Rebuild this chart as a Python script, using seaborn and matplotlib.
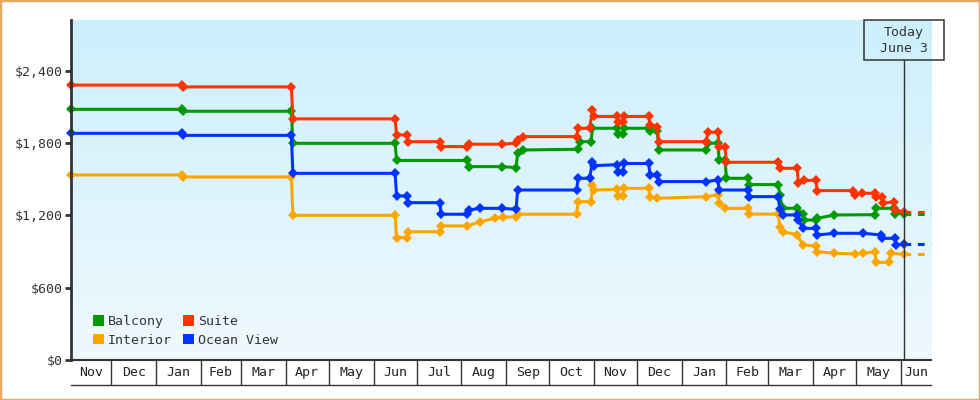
import numpy as np
import pandas as pd
import seaborn as sns
import matplotlib.pyplot as plt
import matplotlib.dates as mdates
from matplotlib.colors import LinearSegmentedColormap
from matplotlib.patches import Patch, Rectangle
from matplotlib.lines import Line2D
from matplotlib.transforms import blended_transform_factory

plt.rcParams['font.family'] = ['DejaVu Sans Mono']

# price history per cabin type
balcony_dates = ["2022-11-03", "2023-01-19", "2023-01-20", "2023-04-05", "2023-04-06", "2023-06-16",
                 "2023-06-17", "2023-08-05", "2023-08-06", "2023-08-29", "2023-09-08", "2023-09-09",
                 "2023-09-13", "2023-10-21", "2023-10-22", "2023-10-30", "2023-10-31", "2023-11-17",
                 "2023-11-18", "2023-11-21", "2023-11-22", "2023-12-09", "2023-12-10", "2023-12-15",
                 "2023-12-16", "2024-01-18", "2024-01-19", "2024-01-26", "2024-01-27", "2024-01-31",
                 "2024-02-01", "2024-02-16", "2024-02-17", "2024-03-08", "2024-03-09", "2024-03-11",
                 "2024-03-21", "2024-03-25", "2024-03-26", "2024-04-03", "2024-04-04", "2024-04-16",
                 "2024-05-14", "2024-05-15", "2024-05-27", "2024-05-28", "2024-06-03"]
balcony_prices = [2079, 2079, 2063, 2063, 1797, 1797,
                  1655, 1655, 1604, 1604, 1596, 1714,
                  1742, 1748, 1811, 1811, 1922, 1922,
                  1875, 1875, 1922, 1922, 1900, 1900,
                  1742, 1742, 1798, 1798, 1659, 1659,
                  1507, 1507, 1455, 1455, 1369, 1258,
                  1258, 1210, 1161, 1161, 1175, 1203,
                  1205, 1258, 1258, 1215, 1215]

suite_dates = ["2022-11-03", "2023-01-19", "2023-01-20", "2023-04-05", "2023-04-06", "2023-06-16",
               "2023-06-17", "2023-06-24", "2023-06-25", "2023-07-17", "2023-07-18", "2023-08-05",
               "2023-08-06", "2023-08-29", "2023-09-08", "2023-09-09", "2023-09-13", "2023-10-20",
               "2023-10-21", "2023-10-29", "2023-10-31", "2023-11-01", "2023-11-17", "2023-11-18",
               "2023-11-21", "2023-11-22", "2023-12-09", "2023-12-10", "2023-12-15", "2023-12-16",
               "2024-01-18", "2024-01-19", "2024-01-26", "2024-01-27", "2024-01-31", "2024-02-01",
               "2024-03-08", "2024-03-09", "2024-03-21", "2024-03-22", "2024-03-26", "2024-04-03",
               "2024-04-04", "2024-04-29", "2024-04-30", "2024-05-05", "2024-05-14", "2024-05-15",
               "2024-05-19", "2024-05-20", "2024-05-27", "2024-05-28", "2024-06-03"]
suite_prices = [2280, 2280, 2265, 2265, 2000, 2000,
                1867, 1867, 1811, 1811, 1770, 1770,
                1790, 1790, 1798, 1825, 1853, 1853,
                1922, 1922, 2070, 2020, 2020, 1975,
                1975, 2020, 2020, 1950, 1935, 1811,
                1811, 1889, 1889, 1770, 1770, 1640,
                1640, 1590, 1590, 1470, 1490, 1490,
                1405, 1405, 1369, 1383, 1383, 1355,
                1355, 1300, 1313, 1244, 1228]

interior_dates = ["2022-11-03", "2023-01-19", "2023-01-20", "2023-04-05", "2023-04-06", "2023-06-16",
                  "2023-06-17", "2023-06-24", "2023-06-25", "2023-07-17", "2023-07-18", "2023-08-05",
                  "2023-08-14", "2023-08-24", "2023-08-30", "2023-09-08", "2023-09-09", "2023-10-20",
                  "2023-10-21", "2023-10-30", "2023-10-31", "2023-11-01", "2023-11-17", "2023-11-18",
                  "2023-11-21", "2023-11-22", "2023-12-09", "2023-12-10", "2023-12-15", "2024-01-18",
                  "2024-01-26", "2024-01-27", "2024-01-31", "2024-02-16", "2024-02-17", "2024-03-08",
                  "2024-03-09", "2024-03-11", "2024-03-21", "2024-03-25", "2024-04-03", "2024-04-04",
                  "2024-04-16", "2024-04-30", "2024-05-06", "2024-05-14", "2024-05-15", "2024-05-24",
                  "2024-05-25", "2024-06-03"]
interior_prices = [1535, 1535, 1518, 1518, 1200, 1200,
                   1015, 1015, 1064, 1064, 1112, 1112,
                   1147, 1175, 1183, 1189, 1209, 1209,
                   1313, 1313, 1452, 1410, 1415, 1360,
                   1360, 1424, 1424, 1355, 1341, 1355,
                   1369, 1300, 1258, 1258, 1210, 1210,
                   1106, 1064, 1040, 954, 945, 899,
                   885, 880, 885, 899, 810, 810,
                   885, 877]

ocean_dates = ["2022-11-03", "2023-01-19", "2023-01-20", "2023-04-05", "2023-04-06", "2023-06-16",
               "2023-06-17", "2023-06-24", "2023-06-25", "2023-07-17", "2023-07-18", "2023-08-05",
               "2023-08-06", "2023-08-14", "2023-08-29", "2023-09-08", "2023-09-09", "2023-10-20",
               "2023-10-21", "2023-10-29", "2023-10-31", "2023-11-01", "2023-11-17", "2023-11-18",
               "2023-11-21", "2023-11-22", "2023-12-09", "2023-12-10", "2023-12-15", "2023-12-16",
               "2024-01-18", "2024-01-26", "2024-01-27", "2024-02-16", "2024-02-17", "2024-03-08",
               "2024-03-09", "2024-03-11", "2024-03-21", "2024-03-22", "2024-03-25", "2024-04-03",
               "2024-04-04", "2024-04-16", "2024-05-06", "2024-05-18", "2024-05-19", "2024-05-28",
               "2024-05-29", "2024-06-03"]
ocean_prices = [1880, 1880, 1863, 1863, 1548, 1548,
                1361, 1361, 1305, 1305, 1209, 1209,
                1244, 1258, 1258, 1250, 1410, 1410,
                1507, 1507, 1645, 1612, 1620, 1560,
                1560, 1630, 1630, 1535, 1535, 1480,
                1480, 1493, 1410, 1410, 1355, 1355,
                1250, 1203, 1203, 1161, 1092, 1092,
                1037, 1051, 1051, 1037, 1009, 1009,
                954, 960]

cabins = ["Interior", "Balcony", "Suite", "Ocean View"]
legend_order = ["Balcony", "Interior", "Suite", "Ocean View"]
colors = {"Balcony": "#009900", "Suite": "#FF3300", "Interior": "#FFA500", "Ocean View": "#0033FF"}
y_ticks = [0, 600, 1200, 1800, 2400]
x_start, x_end = "2022-11-03", "2024-06-22"
today = "2024-06-03"

df = pd.concat([
    pd.DataFrame({"date": pd.to_datetime(balcony_dates), "price": balcony_prices, "cabin": "Balcony"}),
    pd.DataFrame({"date": pd.to_datetime(suite_dates), "price": suite_prices, "cabin": "Suite"}),
    pd.DataFrame({"date": pd.to_datetime(interior_dates), "price": interior_prices, "cabin": "Interior"}),
    pd.DataFrame({"date": pd.to_datetime(ocean_dates), "price": ocean_prices, "cabin": "Ocean View"}),
], ignore_index=True)

W, H = 980, 400
pos = [71 / W, 40 / H, 860 / W, 340 / H]
fig = plt.figure(figsize=(W / 100, H / 100), dpi=100)

# gradient background
bg = fig.add_axes(pos, zorder=0)
sky = LinearSegmentedColormap.from_list("sky", ["#EFF9FE", "#CCEFFC"])
bg.imshow(np.linspace(0, 1, 256).reshape(-1, 1), aspect="auto", cmap=sky, origin="lower", extent=[0, 1, 0, 1])
bg.axis("off")

ax = fig.add_axes(pos, zorder=1)
ax.patch.set_alpha(0)

sns.lineplot(data=df, x="date", y="price", hue="cabin", hue_order=cabins, palette=colors,
             estimator=None, marker="D", markersize=5.5, markeredgewidth=0, linewidth=2.2,
             legend=False, clip_on=False, ax=ax)

# dashed projection from today
x0, x1, t = pd.Timestamp(x_start), pd.Timestamp(x_end), pd.Timestamp(today)
for c in cabins:
    last = df[df.cabin == c].iloc[-1]
    ax.plot([last.date, x1], [last.price, last.price], color=colors[c], lw=2.2,
            ls=(0, (2.2, 2.2)), clip_on=False)

ax.set_xlim(x0, x1)
ax.set_ylim(0, 2820)
ax.set_xlabel("")
ax.set_ylabel("")

ax.axvline(t, ymin=0, ymax=300 / 340, color="#333333", lw=1)

for s in ["top", "right"]:
    ax.spines[s].set_visible(False)
ax.spines["left"].set_linewidth(2)
ax.spines["left"].set_color("#333333")
ax.spines["bottom"].set_linewidth(1.5)
ax.spines["bottom"].set_color("#333333")

ax.set_yticks(y_ticks)
ax.yaxis.set_major_formatter(plt.FuncFormatter(lambda v, p: f"${v:,.0f}"))
ax.tick_params(axis="y", length=4, width=2, color="#333333", labelcolor="#333333", labelsize=9.5, pad=2)

ax.xaxis.set_major_locator(mdates.MonthLocator())
ax.xaxis.set_minor_locator(plt.NullLocator())
ax.tick_params(axis="x", which="major", length=18, width=1, color="#333333", labelbottom=False)

# month labels centred in their visible cells
tr = blended_transform_factory(ax.transData, ax.transAxes)
for m in pd.date_range("2022-11-01", "2024-06-01", freq="MS"):
    a = max(m, x0)
    b = min(m + pd.offsets.MonthBegin(1), x1)
    ax.text(a + (b - a) / 2, -12.5 / 340, m.strftime("%b"), transform=tr, ha="center", va="center",
            fontsize=9.5, color="#222222")
ax.add_line(Line2D([0, 1], [-25 / 340, -25 / 340], transform=ax.transAxes, clip_on=False,
                   color="#333333", lw=1))

handles = [Patch(facecolor=colors[c], edgecolor="none") for c in legend_order]
ax.legend(handles, legend_order, ncol=2, loc="lower left",
          bbox_to_anchor=(22 / 860, 13 / 340), frameon=False, fontsize=9.5, handlelength=0.8,
          handleheight=0.8, handletextpad=0.3, columnspacing=0.9, labelspacing=0.45,
          borderpad=0, borderaxespad=0, labelcolor="#333333")

# today box
px = ax.transData.transform((mdates.date2num(t), 0))[0]
fig.add_artist(Rectangle(((px - 40) / W, 340 / H), 80 / W, 40 / H, transform=fig.transFigure,
                         fill=False, edgecolor="#333333", lw=1.1, zorder=5))
fig.text(px / W, (H - 40.7) / H, "Today\nJune 3", ha="center", va="center", multialignment="center",
         linespacing=1.35, fontsize=9.5, color="#333333")

fig.add_artist(Rectangle((0, 0), 1, 1, transform=fig.transFigure, fill=False, edgecolor="#E8A860", lw=2.5))

fig.savefig("out.png", dpi=100)
